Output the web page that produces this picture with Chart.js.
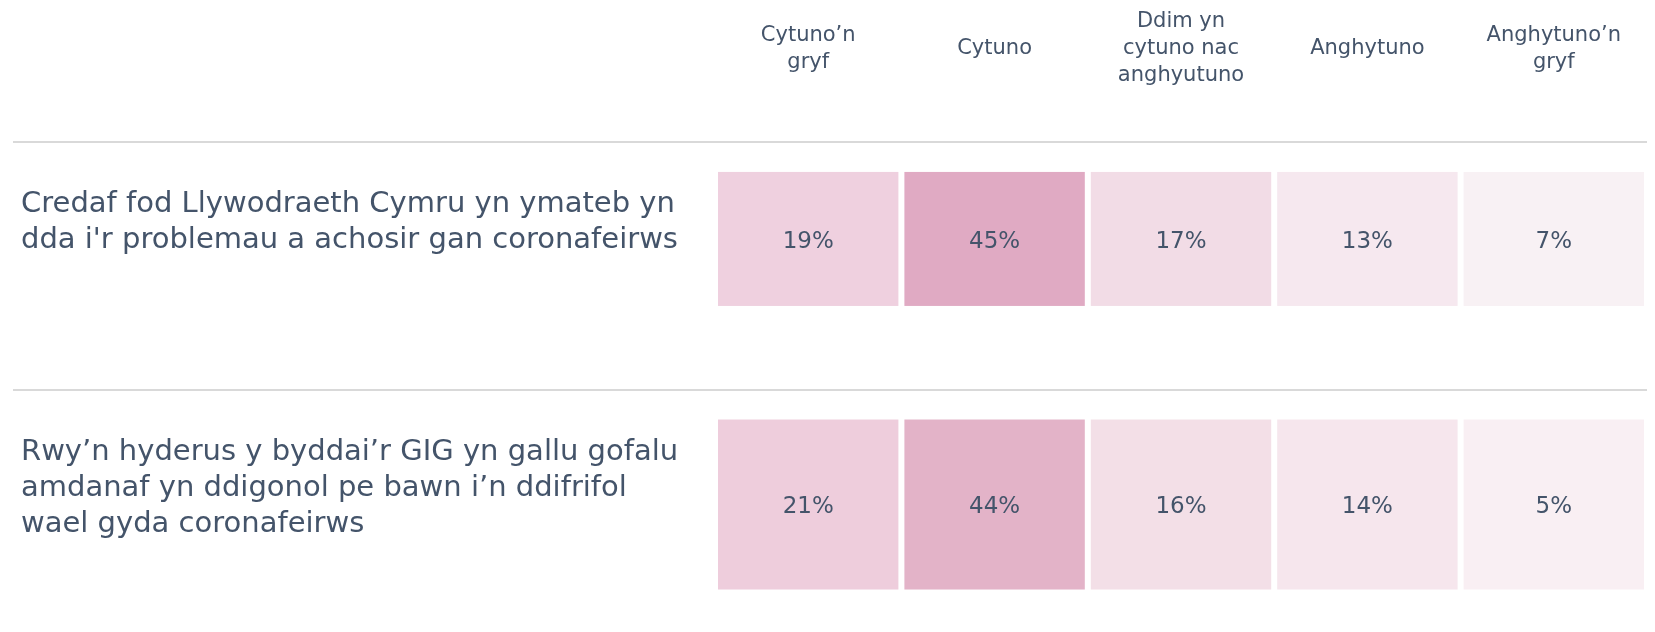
<!DOCTYPE html>
<html>
<head>
<meta charset="utf-8">
<script src="https://cdn.jsdelivr.net/npm/chart.js@4"></script>
<style>
  html, body { margin: 0; padding: 0; background: #fff; }
  #wrap { width: 1655px; height: 632px; }
</style>
</head>
<body>
<div id="wrap"><canvas id="gp" width="1655" height="632"></canvas></div>
<script>
const ctx = document.getElementById("gp");

// column headers (answer options)
const answers = [
    ["Cytuno’n", "gryf"],
    "Cytuno",
    ["Ddim yn", "cytuno nac", "anghyutuno"],
    "Anghytuno",
    ["Anghytuno’n", "gryf"],
];

// row labels (statements)
const statements = [
    ["Credaf fod Llywodraeth Cymru yn ymateb yn", "dda i'r problemau a achosir gan coronafeirws"],
    ["Rwy’n hyderus y byddai’r GIG yn gallu gofalu", "amdanaf yn ddigonol pe bawn i’n ddifrifol", "wael gyda coronafeirws"],
];

const govt = [19, 45, 17, 13, 7]; // %
const nhs = [21, 44, 16, 14, 5];  // %

const shades = [
    ["#efd0df", "#e0aac3", "#f2dce6", "#f6e8ef", "#f8f1f4"],
    ["#eecddc", "#e3b3c8", "#f3dfe7", "#f6e6ed", "#f9eff3"],
];

const textCol = "#44546a";
const font = "'DejaVu Sans', sans-serif";

const toPoints = (vals, row) => vals.map((v, i) => ({ x: i, y: row, v: v }));

// draws the coloured cells + % labels using the chart scales
const cellPlugin = {
    id: "cells",
    beforeDatasetsDraw(chart) {
        const c = chart.ctx;
        const xs = chart.scales.x, ys = chart.scales.y;
        const colW = xs.getPixelForValue(1) - xs.getPixelForValue(0);
        chart.data.datasets.forEach((ds, r) => {
            const lines = Array.isArray(statements[r]) ? statements[r].length : 1;
            const h = 62 + 36 * lines;
            const cy = ys.getPixelForValue(r);
            // separator line above each row
            const ly = Math.round(cy - h / 2 - 30);
            c.save();
            c.strokeStyle = "#d9d9d9";
            c.lineWidth = 2;
            c.beginPath();
            c.moveTo(13, ly);
            c.lineTo(chart.chartArea.right, ly);
            c.stroke();
            ds.data.forEach((p, i) => {
                const cx = xs.getPixelForValue(p.x);
                c.fillStyle = shades[r][i];
                c.fillRect(cx - colW / 2 + 3, cy - h / 2, colW - 6, h);
                c.fillStyle = textCol;
                c.font = "23px " + font;
                c.textAlign = "center";
                c.textBaseline = "middle";
                c.fillText(p.v + "%", cx, cy + 3);
            });
            c.restore();
        });
    },
};

new Chart(ctx, {
    type: "scatter",
    data: {
        datasets: [
            { label: "govt", data: toPoints(govt, 0), pointRadius: 0 },
            { label: "nhs", data: toPoints(nhs, 1), pointRadius: 0 },
        ],
    },
    options: {
        responsive: false,
        animation: false,
        layout: { padding: { left: 21, right: 8, top: 0, bottom: 0 } },
        plugins: { legend: { display: false }, tooltip: { enabled: false } },
        scales: {
            x: {
                type: "linear",
                position: "top",
                min: -0.5,
                max: 4.5,
                afterBuildTicks: s => { s.ticks = answers.map((a, i) => ({ value: i })); },
                afterFit: s => { s.height = 142; s.paddingLeft = 0; s.paddingRight = 0; },
                grid: { display: false, drawTicks: false },
                border: { display: false },
                ticks: {
                    callback: v => answers[v],
                    color: textCol,
                    font: { family: font, size: 21, lineHeight: 1.29 },
                    crossAlign: "center",
                    padding: 66,
                    maxRotation: 0,
                    autoSkip: false,
                },
            },
            y: {
                type: "linear",
                reverse: true,
                min: -0.365,
                max: 1.48,
                afterBuildTicks: s => { s.ticks = statements.map((q, i) => ({ value: i })); },
                afterFit: s => { s.width = 694; s.paddingTop = 0; s.paddingBottom = 0; },
                grid: { display: false, drawTicks: false },
                border: { display: false },
                ticks: {
                    callback: v => statements[v],
                    color: textCol,
                    font: { family: font, size: 29, lineHeight: 1.24 },
                    crossAlign: "far",
                    labelOffset: -16,
                    autoSkip: false,
                },
            },
        },
    },
    plugins: [cellPlugin],
});
</script>
</body>
</html>
